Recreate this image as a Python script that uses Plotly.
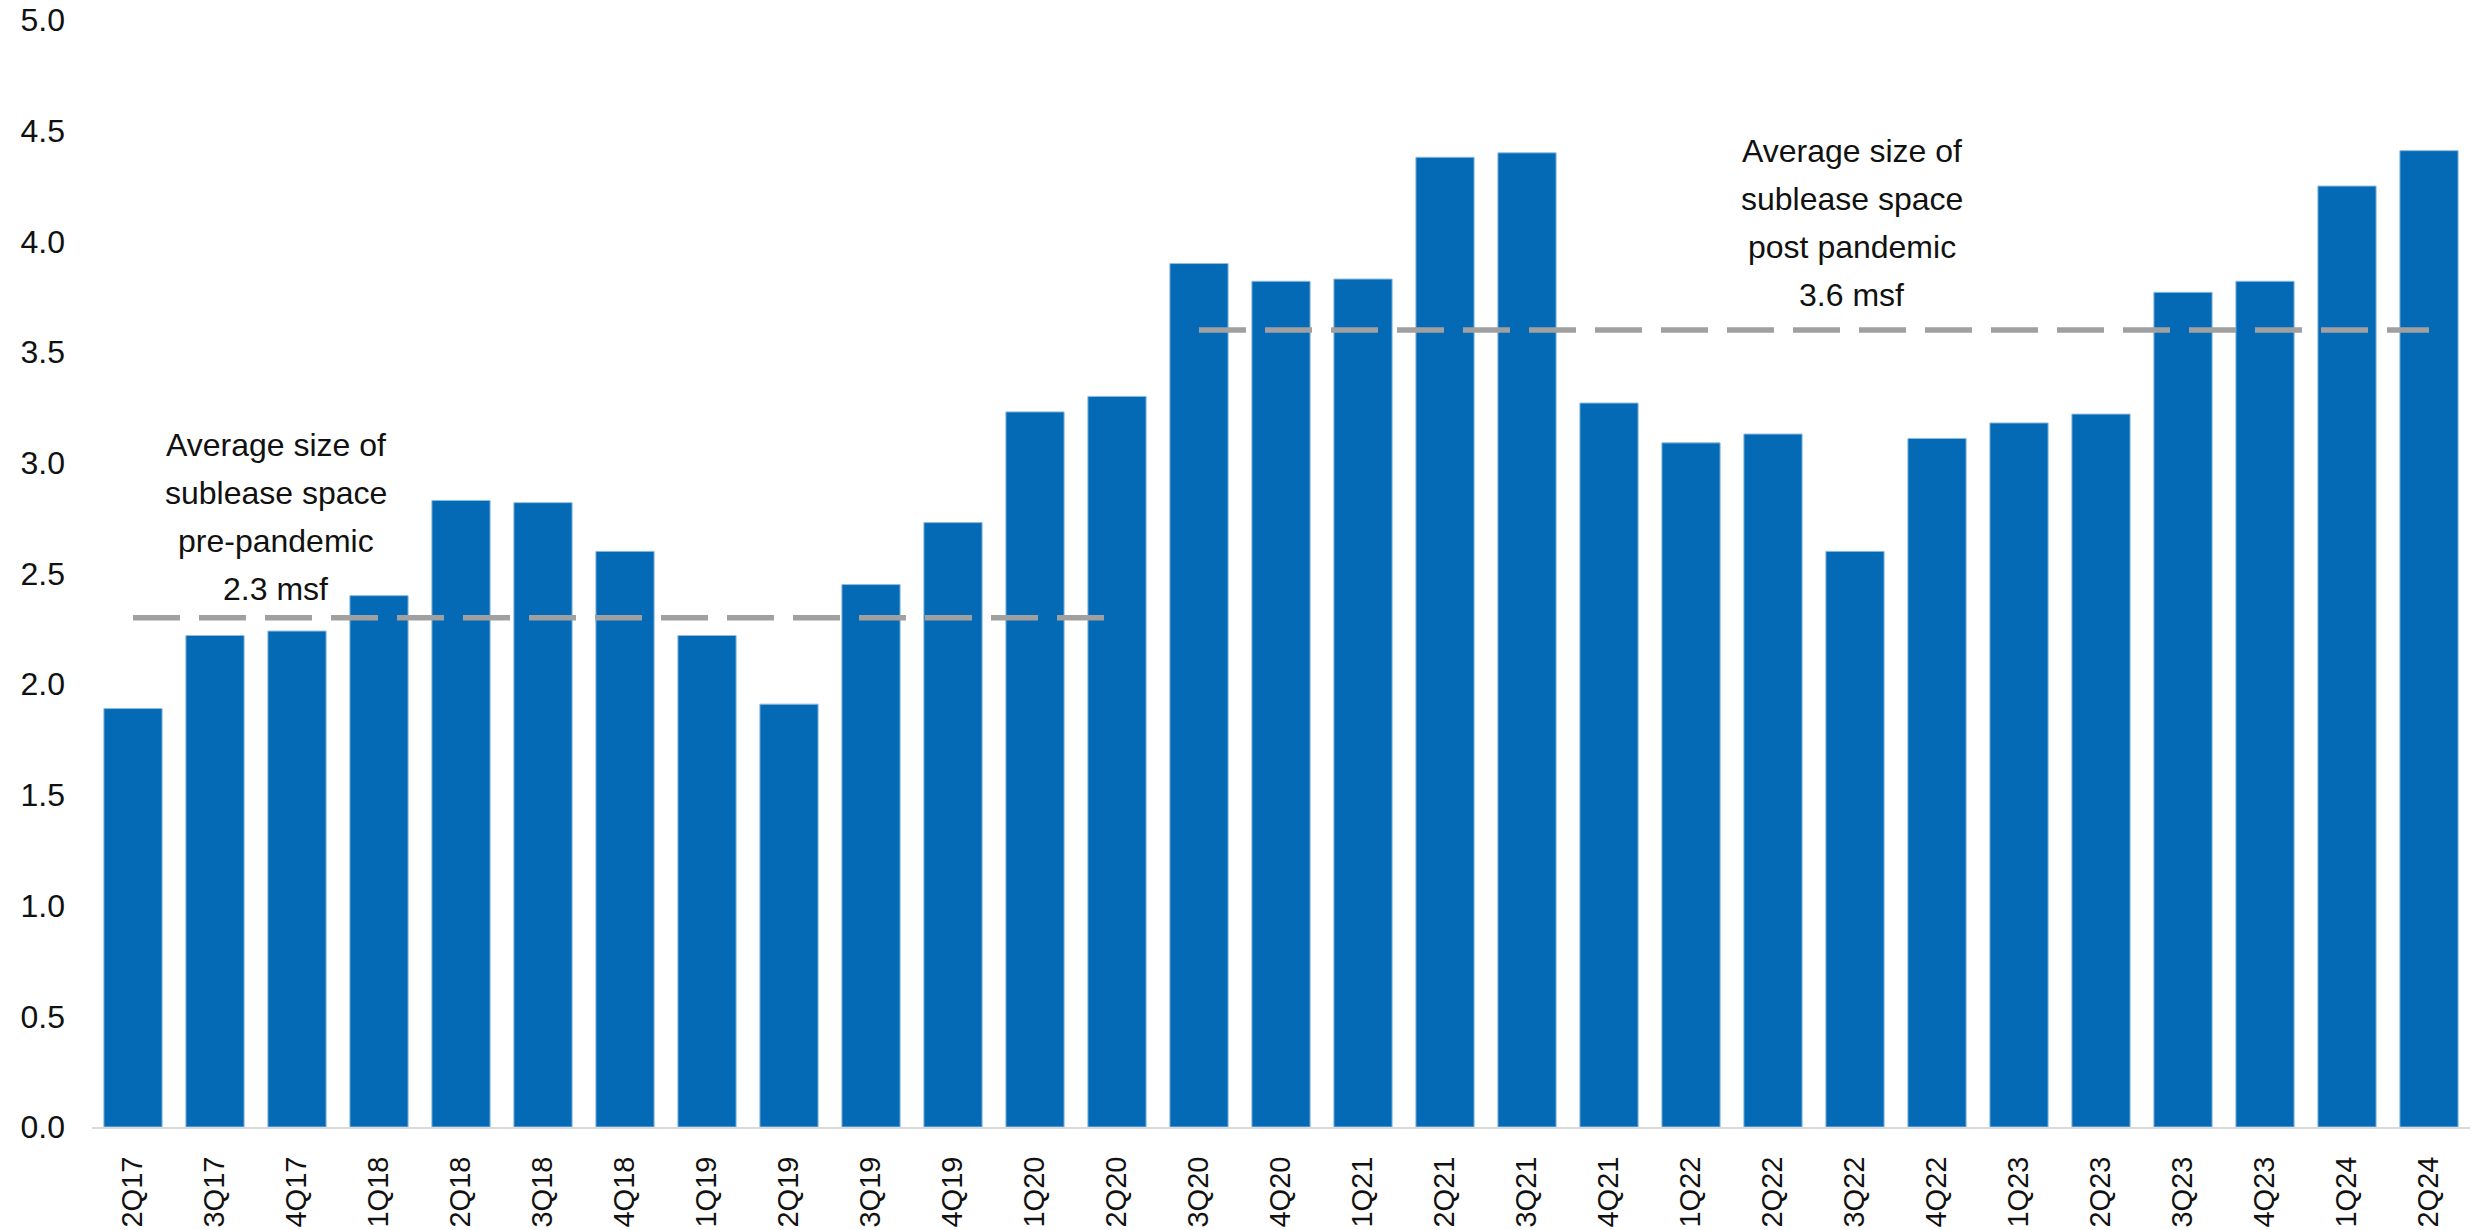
import plotly.graph_objects as go

# Quarterly average size of sublease listings (million square feet)
quarters = [
    "2Q17", "3Q17", "4Q17", "1Q18", "2Q18", "3Q18", "4Q18", "1Q19", "2Q19", "3Q19",
    "4Q19", "1Q20", "2Q20", "3Q20", "4Q20", "1Q21", "2Q21", "3Q21", "4Q21", "1Q22",
    "2Q22", "3Q22", "4Q22", "1Q23", "2Q23", "3Q23", "4Q23", "1Q24", "2Q24",
]
sublease_msf = [
    1.89, 2.22, 2.24, 2.40, 2.83, 2.82, 2.60, 2.22, 1.91, 2.45,
    2.73, 3.23, 3.30, 3.90, 3.82, 3.83, 4.38, 4.40, 3.27, 3.09,
    3.13, 2.60, 3.11, 3.18, 3.22, 3.77, 3.82, 4.25, 4.41,
]

# Period averages
pre_quarters = quarters[:13]
post_quarters = quarters[13:]
pre_avg = 2.3
post_avg = 3.6

pre_label = ["Average size of", "sublease space", "pre-pandemic", f"{pre_avg:.1f} msf"]
post_label = ["Average size of", "sublease space", "post pandemic", f"{post_avg:.1f} msf"]

BAR_BLUE = "#046ab5"
AVG_GREY = "#a0a0a0"
TEXT = "#111111"
FONT = "Liberation Sans, Arial, sans-serif"

fig = go.Figure()

fig.add_trace(go.Bar(
    x=quarters,
    y=sublease_msf,
    marker=dict(color=BAR_BLUE, line=dict(color="#8fbbe3", width=1)),
    hoverinfo="x+y",
))

for xs, avg in ((pre_quarters, pre_avg), (post_quarters, post_avg)):
    fig.add_trace(go.Scatter(
        x=xs,
        y=[avg] * len(xs),
        mode="lines",
        line=dict(color=AVG_GREY, width=5.5, dash="47px,19px"),
        hoverinfo="skip",
    ))

# Multi-line callouts, one annotation per line for wider leading
line_step = 0.217
for lines, xc, ytop in ((pre_label, 1.74, 3.08), (post_label, 20.96, 4.41)):
    for i, txt in enumerate(lines):
        fig.add_annotation(
            x=xc, y=ytop - i * line_step, xref="x", yref="y",
            text=txt, showarrow=False,
            xanchor="center", yanchor="middle",
            font=dict(family=FONT, size=32, color=TEXT),
        )

fig.update_layout(
    width=2472,
    height=1230,
    margin=dict(l=92, r=2, t=19, b=94, pad=0),
    plot_bgcolor="white",
    paper_bgcolor="white",
    showlegend=False,
    bargap=0.29,
    font=dict(family=FONT, color=TEXT),
    xaxis=dict(
        type="category",
        range=[-0.5, len(quarters) - 0.5],
        showline=True,
        linecolor="#d9d9d9",
        linewidth=2,
        showgrid=False,
        ticks="",
        tickangle=-90,
        tickfont=dict(family=FONT, size=29, color=TEXT),
        ticklabelstandoff=16,
    ),
    yaxis=dict(
        range=[0, 5],
        dtick=0.5,
        tickformat=".1f",
        showgrid=False,
        zeroline=False,
        showline=False,
        ticks="",
        tickfont=dict(family=FONT, size=32, color=TEXT),
        ticklabelstandoff=26,
    ),
)

fig.write_html("out.html")
